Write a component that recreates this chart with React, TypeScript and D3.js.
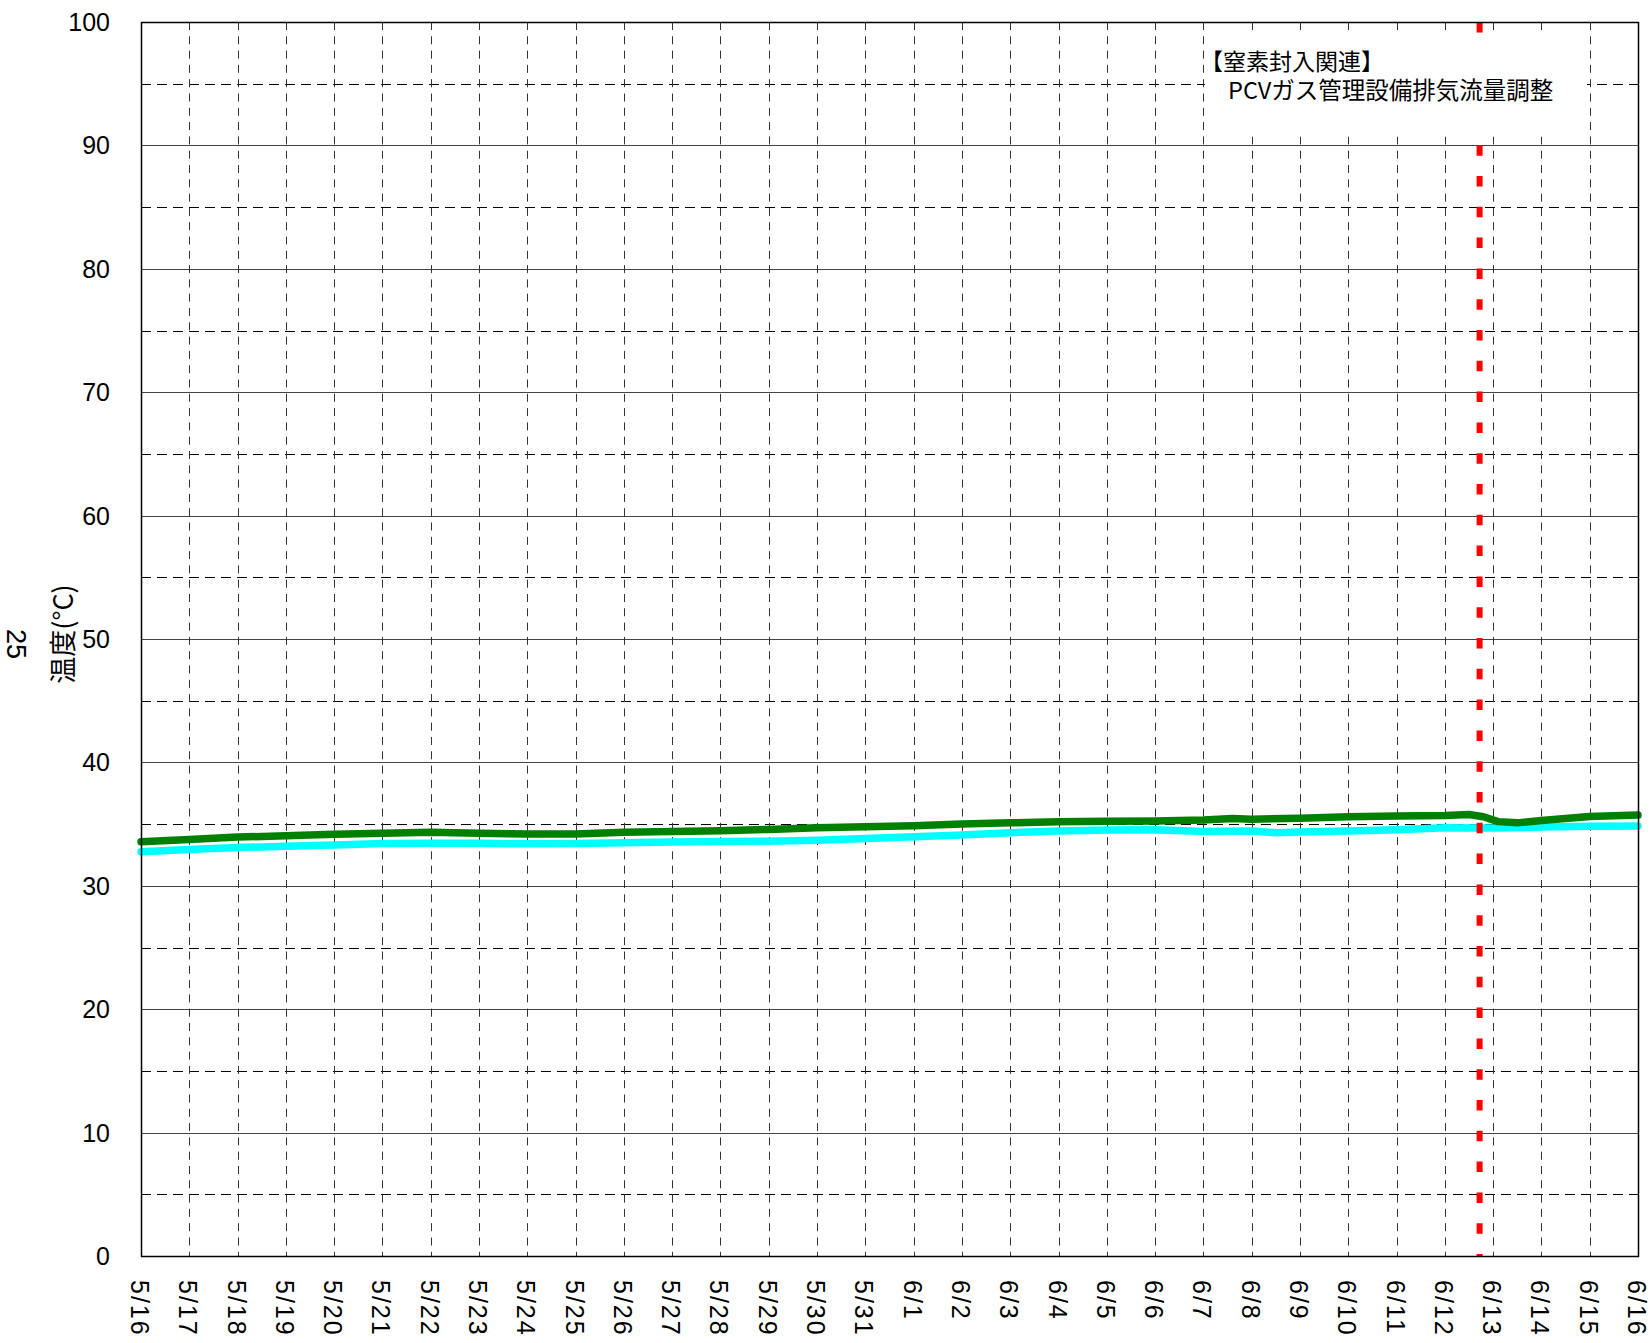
import React from "react";
import * as d3 from "d3";

// x position is days from 5/16
const dayLabels = [
  "5/16","5/17","5/18","5/19","5/20","5/21","5/22","5/23","5/24","5/25","5/26","5/27","5/28","5/29","5/30","5/31",
  "6/1","6/2","6/3","6/4","6/5","6/6","6/7","6/8","6/9","6/10","6/11","6/12","6/13","6/14","6/15","6/16",
];
const yTicks = [0, 10, 20, 30, 40, 50, 60, 70, 80, 90, 100];
const yMinor = [5, 15, 25, 35, 45, 55, 65, 75, 85, 95];

const greenDays = [0, 1, 2, 3, 4, 5, 6, 7, 8, 9, 10, 11, 12, 13, 14, 15, 16, 17, 18, 19, 20, 21, 22, 22.6, 23, 24, 25, 26, 27, 27.5, 27.8, 28.1, 28.5, 29, 30, 31];
const greenVals = [33.57, 33.75, 33.95, 34.05, 34.17, 34.25, 34.34, 34.25, 34.2, 34.2, 34.33, 34.4, 34.46, 34.57, 34.7, 34.78, 34.87, 35.0, 35.1, 35.19, 35.24, 35.25, 35.33, 35.45, 35.4, 35.48, 35.6, 35.65, 35.7, 35.78, 35.6, 35.2, 35.1, 35.3, 35.62, 35.73];

const cyanDays = [0, 1, 2, 3, 4, 5, 6, 7, 8, 9, 10, 11, 12, 13, 14, 15, 16, 17, 18, 19, 20, 21, 22, 23, 23.5, 24, 25, 26, 27, 28, 29, 30, 31];
const cyanVals = [32.76, 32.95, 33.1, 33.2, 33.3, 33.42, 33.44, 33.44, 33.4, 33.42, 33.49, 33.55, 33.6, 33.62, 33.7, 33.84, 33.98, 34.11, 34.3, 34.44, 34.52, 34.55, 34.4, 34.45, 34.3, 34.35, 34.45, 34.55, 34.7, 34.68, 34.76, 34.82, 34.85];

const eventDay = 27.72;
const noteLines = ["【窒素封入関連】", "PCVガス管理設備排気流量調整"];

export default function App() {
  const width = 1651;
  const height = 1343;
  const left = 141, right = 1638, top = 22, bottom = 1256;

  const x = d3.scaleLinear().domain([0, 31]).range([left, right]);
  const y = d3.scaleLinear().domain([0, 100]).range([bottom, top]);

  const line = d3.line<[number, number]>()
    .x((d) => x(d[0]))
    .y((d) => y(d[1]));

  const green = greenDays.map((d, i) => [d, greenVals[i]] as [number, number]);
  const cyan = cyanDays.map((d, i) => [d, cyanVals[i]] as [number, number]);

  const num = "'Liberation Sans', Arial, sans-serif";
  const jp = "'Noto Sans CJK JP', sans-serif";

  return (
    <svg width={width} height={height} style={{ position: "absolute", left: 0, top: 0, background: "#fff" }}>
      <rect x={0} y={0} width={width} height={height} fill="#fff" />

      {/* minor dashed horizontal grid */}
      {yMinor.map((v) => (
        <line key={"m" + v} x1={left} x2={right} y1={Math.round(y(v)) + 0.5} y2={Math.round(y(v)) + 0.5}
          stroke="#000" strokeDasharray="10,6" strokeWidth={1} />
      ))}
      {/* major horizontal grid */}
      {yTicks.map((v) => (
        <line key={"M" + v} x1={left} x2={right} y1={Math.round(y(v)) + 0.5} y2={Math.round(y(v)) + 0.5}
          stroke="#444" strokeWidth={1.2} />
      ))}
      {/* vertical dashed grid */}
      {dayLabels.map((_, i) => (
        <line key={"v" + i} x1={Math.round(x(i)) + 0.5} x2={Math.round(x(i)) + 0.5} y1={top} y2={bottom}
          stroke="#333" strokeDasharray="8,6.3" strokeWidth={1} />
      ))}

      {/* series */}
      <path d={line(cyan) || ""} fill="none" stroke="#00FFFF" strokeWidth={7.5} strokeLinejoin="round" strokeLinecap="round" />
      <path d={line(green) || ""} fill="none" stroke="#008000" strokeWidth={7.5} strokeLinejoin="round" strokeLinecap="round" />

      {/* event marker */}
      <line x1={x(eventDay)} x2={x(eventDay)} y1={top} y2={bottom} stroke="#FF0000" strokeWidth={6} strokeDasharray="10.5,20.3" />

      {/* annotation */}
      <rect x={1205} y={34} width={382} height={102.5} fill="#fff" />
      <text x={1200} y={70} fontFamily={jp} fontSize={23} fill="#000">{noteLines[0]}</text>
      <text x={1228} y={99} fontFamily={jp} fontSize={23.5} fill="#000">{noteLines[1]}</text>

      {/* plot border */}
      <rect x={left + 0.5} y={top + 0.5} width={right - left} height={bottom - top} fill="none" stroke="#000" strokeWidth={1.5} />

      {/* y tick labels */}
      {yTicks.map((v) => (
        <text key={"yt" + v} x={110} y={y(v)} dy="0.36em" textAnchor="end" fontFamily={num} fontSize={25} fill="#000">{v}</text>
      ))}

      {/* x tick labels */}
      {dayLabels.map((lab, i) => (
        <text key={"xt" + i} transform={`translate(${x(i) - 10},${1280}) rotate(90)`} fontFamily={num} fontSize={25}
          letterSpacing={2} fill="#000">{lab}</text>
      ))}

      {/* axis titles */}
      <text transform={`translate(61,634) rotate(-90)`} textAnchor="middle" dominantBaseline="central" fontFamily={jp} fontSize={27} fill="#000">温度(°C)</text>
      <text transform={`translate(16,644) rotate(90)`} textAnchor="middle" dominantBaseline="central" fontFamily={num} fontSize={27} fill="#000">25</text>
    </svg>
  );
}
